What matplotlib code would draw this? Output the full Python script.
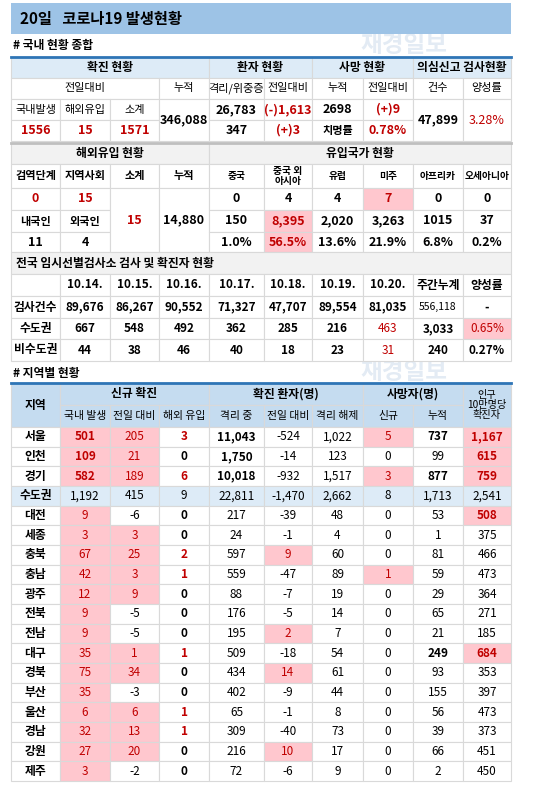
import matplotlib

matplotlib.use("Agg")
import matplotlib.pyplot as plt
from matplotlib.patches import Rectangle

plt.rcParams["font.family"] = ["Noto Sans CJK KR", "DejaVu Sans"]

RED = "#c00000"
PINK = "#ffc7ce"
HEAD = "#ddebf7"
HEAD2 = "#c5dcf0"
GRAY = "#f2f2f2"
LINE = "#d9d9d9"
BLUE = "#2e75b6"

# column edges in pixels (layout)
COLS = [11, 60, 110, 159, 209, 264, 312, 363, 413, 463, 511]

# --- section 1: domestic summary
S1_GROUPS = ["확진 현황", "환자 현황", "사망 현황", "의심신고 검사현황"]
S1_SUB = ["전일대비", "누적", "격리/위중증", "전일대비", "누적", "전일대비", "건수", "양성률"]
S1_LOCAL = ["국내발생", "해외유입", "소계"]
S1_LOCAL_VALS = ["1556", "15", "1571"]
S1_TOTAL = "346,088"
S1_ISOLATED = ["26,783", "347"]
S1_ISO_DIFF = ["(-)1,613", "(+)3"]
S1_DEATH = ["2698", "치명률"]
S1_DEATH_DIFF = ["(+)9", "0.78%"]
S1_TESTS = "47,899"
S1_POS = "3.28%"

# --- section 2: imported cases
S2_HEAD = ["검역단계", "지역사회", "소계", "누적", "중국", "중국 외\n아시아", "유럽", "미주", "아프리카", "오세아니아"]
S2_STAGE = ["0", "15"]
S2_NATION = ["내국인", "외국인"]
S2_NATION_VALS = ["11", "4"]
S2_SUBTOTAL = "15"
S2_TOTAL = "14,880"
S2_TODAY = ["0", "4", "4", "7", "0", "0"]
S2_CUM = ["150", "8,395", "2,020", "3,263", "1015", "37"]
S2_SHARE = ["1.0%", "56.5%", "13.6%", "21.9%", "6.8%", "0.2%"]

# --- section 3: screening clinics
S3_DATES = ["10.14.", "10.15.", "10.16.", "10.17.", "10.18.", "10.19.", "10.20.", "주간누계", "양성률"]
S3_ROWS = ["검사건수", "수도권", "비수도권"]
S3_TESTS = ["89,676", "86,267", "90,552", "71,327", "47,707", "89,554", "81,035", "556,118", "-"]
S3_METRO = ["667", "548", "492", "362", "285", "216", "463", "3,033", "0.65%"]
S3_NONMETRO = ["44", "38", "46", "40", "18", "23", "31", "240", "0.27%"]

# --- section 4: by region
REGIONS = ["서울", "인천", "경기", "수도권", "대전", "세종", "충북", "충남", "광주", "전북",
           "전남", "대구", "경북", "부산", "울산", "경남", "강원", "제주"]
LOCAL_NEW = [501, 109, 582, 1192, 9, 3, 67, 42, 12, 9, 9, 35, 75, 35, 6, 32, 27, 3]
LOCAL_DIFF = [205, 21, 189, 415, -6, 3, 25, 3, 9, -5, -5, 1, 34, -3, 6, 13, 20, -2]
IMPORTED = [3, 0, 6, 9, 0, 0, 2, 1, 0, 0, 0, 1, 0, 0, 1, 1, 0, 0]
ISOLATED = [11043, 1750, 10018, 22811, 217, 24, 597, 559, 88, 176, 195, 509, 434, 402, 65, 309, 216, 72]
ISO_DIFF = [-524, -14, -932, -1470, -39, -1, 9, -47, -7, -5, 2, -18, 14, -9, -1, -40, 10, -6]
RELEASED = [1022, 123, 1517, 2662, 48, 4, 60, 89, 19, 14, 7, 54, 61, 44, 8, 73, 17, 9]
DEATH_NEW = [5, 0, 3, 8, 0, 0, 0, 1, 0, 0, 0, 0, 0, 0, 0, 0, 0, 0]
DEATH_CUM = [737, 99, 877, 1713, 53, 1, 81, 59, 29, 65, 21, 249, 93, 155, 56, 39, 66, 2]
PER_100K = [1167, 615, 759, 2541, 508, 375, 466, 473, 364, 271, 185, 684, 353, 397, 473, 373, 451, 450]
R_HEAD_GROUPS = ["신규 확진", "확진 환자(명)", "사망자(명)"]
R_HEAD_SUB = ["국내 발생", "전일 대비", "해외 유입", "격리 중", "전일 대비", "격리 해제", "신규", "누적"]

fig = plt.figure(figsize=(5.5, 7.93), dpi=100)
ax = fig.add_axes([0, 0, 1, 1])
ax.set_xlim(0, 550)
ax.set_ylim(793, 0)
ax.axis("off")


def cell(c0, c1, y0, y1, text="", bg="white", color="black", bold=False, size=8.3, ha="center"):
    x0, x1 = COLS[c0], COLS[c1]
    ax.add_patch(Rectangle((x0, y0), x1 - x0, y1 - y0, facecolor=bg, edgecolor=LINE, lw=0.8))
    if text != "":
        tx = (x0 + x1) / 2 if ha == "center" else x0 + 5
        ax.text(tx, (y0 + y1) / 2, text, ha=ha, va="center", color=color, fontsize=size,
                fontweight="bold" if bold else "normal", linespacing=1.0)


def fmt(v):
    return f"{v:,}"


# title band
ax.add_patch(Rectangle((11, 3), 500, 31, facecolor="#9dc3e6", edgecolor="none"))
ax.text(20, 19, "20일   코로나19 발생현황", ha="left", va="center", fontsize=11, fontweight="bold")
ax.text(13, 46, "# 국내 현황 종합", ha="left", va="center", fontsize=8.5, fontweight="bold")
ax.text(13, 373, "# 지역별 현황", ha="left", va="center", fontsize=8.5, fontweight="bold")
for wy in (45, 372):
    ax.text(360, wy, "재경일보", fontsize=17, fontweight="bold", color="#e3ebf4",
            ha="left", va="center", zorder=0)

# section 1
r = [57, 78, 99, 120, 141]
for (c0, c1), t in zip([(0, 4), (4, 6), (6, 8), (8, 10)], S1_GROUPS):
    cell(c0, c1, r[0], r[1], t, bg=HEAD, bold=True, size=8.5)
for (c0, c1), t in zip([(0, 3), (3, 4), (4, 5), (5, 6), (6, 7), (7, 8), (8, 9), (9, 10)], S1_SUB):
    cell(c0, c1, r[1], r[2], t, size=8)
for i in range(3):
    cell(i, i + 1, r[2], r[3], S1_LOCAL[i], size=8)
    cell(i, i + 1, r[3], r[4], S1_LOCAL_VALS[i], color=RED, bold=True, size=9)
cell(3, 4, r[2], r[4], S1_TOTAL, bold=True, size=9)
for k in range(2):
    cell(4, 5, r[2 + k], r[3 + k], S1_ISOLATED[k], bold=True, size=9)
    cell(5, 6, r[2 + k], r[3 + k], S1_ISO_DIFF[k], color=RED, bold=True, size=9)
    cell(6, 7, r[2 + k], r[3 + k], S1_DEATH[k], bold=True, size=9 if k == 0 else 8)
    cell(7, 8, r[2 + k], r[3 + k], S1_DEATH_DIFF[k], color=RED, bold=True, size=9)
cell(8, 9, r[2], r[4], S1_TESTS, bold=True, size=9)
cell(9, 10, r[2], r[4], S1_POS, color=RED, size=9)
ax.plot([11, 511], [57, 57], color=BLUE, lw=2)

# section 2
r = [143, 164, 188, 210, 232, 252]
cell(0, 4, r[0], r[1], "해외유입 현황", bg=GRAY, bold=True, size=8.5)
cell(4, 10, r[0], r[1], "유입국가 현황", bg=GRAY, bold=True, size=8.5)
for i, t in enumerate(S2_HEAD):
    cell(i, i + 1, r[1], r[2], t, bold=True, size=7 if i >= 4 else 8)
for i in range(2):
    cell(i, i + 1, r[2], r[3], S2_STAGE[i], color=RED, bold=True, size=9)
    cell(i, i + 1, r[3], r[4], S2_NATION[i], bold=True, size=8)
    cell(i, i + 1, r[4], r[5], S2_NATION_VALS[i], bold=True, size=9)
cell(2, 3, r[2], r[5], S2_SUBTOTAL, color=RED, bold=True, size=9)
cell(3, 4, r[2], r[5], S2_TOTAL, bold=True, size=9)
for rows, vals in zip([(r[2], r[3]), (r[3], r[4]), (r[4], r[5])], [S2_TODAY, S2_CUM, S2_SHARE]):
    for j, v in enumerate(vals):
        hot = j == 1 and vals is not S2_TODAY or (j == 3 and vals is S2_TODAY)
        cell(4 + j, 5 + j, rows[0], rows[1], v, bg=PINK if hot else "white",
             color=RED if hot else "black", bold=True, size=9)
ax.plot([11, 511], [143, 143], color="#bfbfbf", lw=2)

# section 3
r = [252, 274, 296, 318, 339, 361]
cell(0, 10, r[0], r[1], "전국 임시선별검사소 검사 및 확진자 현황", bg=GRAY, bold=True, size=8.5, ha="left")
cell(0, 1, r[1], r[2])
for j, t in enumerate(S3_DATES):
    cell(1 + j, 2 + j, r[1], r[2], t, bold=True, size=8.5)
for k, (name, vals) in enumerate(zip(S3_ROWS, [S3_TESTS, S3_METRO, S3_NONMETRO])):
    cell(0, 1, r[2 + k], r[3 + k], name, bold=True, size=8.5)
    for j, v in enumerate(vals):
        hot_bg = k == 1 and j == 8
        red = (k > 0 and j == 6) or hot_bg
        cell(1 + j, 2 + j, r[2 + k], r[3 + k], v, bg=PINK if hot_bg else "white",
             color=RED if red else "black", bold=not (k == 0 and j == 7) and not red,
             size=8.5 if not (k == 0 and j == 7) else 7.5)

# section 4
top, mid, hb = 383, 405, 427
cell(0, 1, top, hb, "지역", bg=HEAD2, bold=True, size=8.5)
for (c0, c1), t in zip([(1, 4), (4, 7), (7, 9)], R_HEAD_GROUPS):
    cell(c0, c1, top, mid, t, bg=HEAD2, bold=True, size=8.5)
for j, t in enumerate(R_HEAD_SUB):
    cell(1 + j, 2 + j, mid, hb, t, bg=HEAD2, size=7.8)
cell(9, 10, top, hb, "인구\n10만명당\n확진자", bg=HEAD2, size=7.3)
ax.plot([11, 511], [top, top], color=BLUE, lw=2)

rh = (781 - hb) / len(REGIONS)
for i, name in enumerate(REGIONS):
    y0, y1 = hb + i * rh, hb + (i + 1) * rh
    metro_sum = name == "수도권"
    metro = i < 3
    base = HEAD if metro_sum else "white"
    cell(0, 1, y0, y1, name, bg=base, bold=True, size=8.5)
    cols = [LOCAL_NEW, LOCAL_DIFF, IMPORTED, ISOLATED, ISO_DIFF, RELEASED, DEATH_NEW, DEATH_CUM, PER_100K]
    for j, series in enumerate(cols):
        v = series[i]
        bg, color, bold = base, "black", False
        if not metro_sum:
            if j in (0, 1, 4, 6) and v > 0:
                bg, color = PINK, RED
            if j == 8 and v > 500:
                bg, color, bold = PINK, RED, True
            if j == 2:
                bold, color = True, RED if v > 0 else "black"
            if j == 0 and metro:
                bold = True
            if j == 3 and metro:
                bold = True
            if j == 7 and v > 200:
                bold = True
        cell(1 + j, 2 + j, y0, y1, fmt(v), bg=bg, color=color, bold=bold, size=8.5)

fig.savefig("out.png", dpi=100)
